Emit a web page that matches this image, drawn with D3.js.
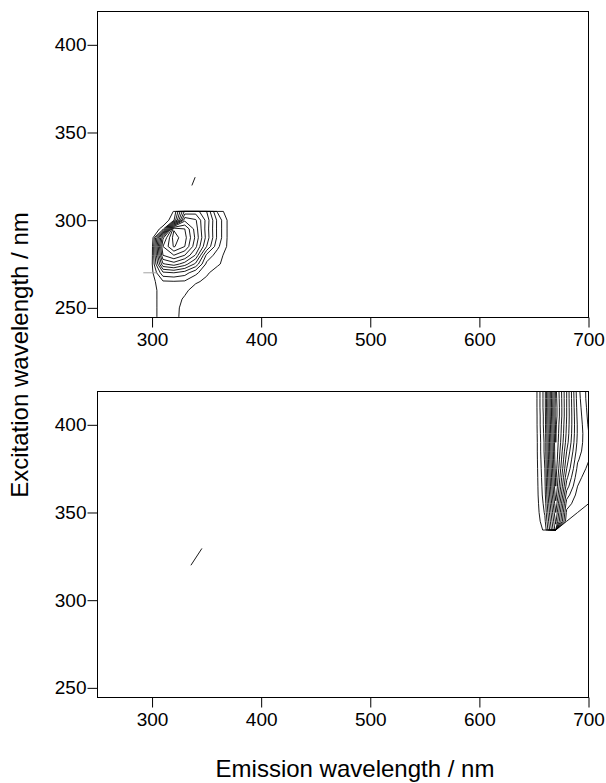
<!DOCTYPE html>
<html>
<head>
<meta charset="utf-8">
<script src="https://cdn.jsdelivr.net/npm/d3@7"></script>
<style>
body { margin: 0; background: #fff; }
text { font-family: "Liberation Sans", Arial, Helvetica, sans-serif; fill: #000; }
</style>
</head>
<body>
<div id="chart"></div>
<script>
// axis ticks
var emTicks = [300, 400, 500, 600, 700];
var exTicks = [250, 300, 350, 400];

// top panel: fluorescence grid (rows = excitation, cols = emission), null = masked
var topEm = [290, 300, 310, 320, 330, 340, 350, 360, 370, 380];
var topEx = [240, 245, 250, 255, 260, 265, 270, 275, 280, 285, 290, 295, 300, 305, 310];
var topGrid = [
    [0, 4, 13, 13, 2, 0, 0, 0, 0, 0],
    [0, 4, 13, 13, 2, 0, 0, 0, 0, 0],
    [0, 4, 13, 13, 3, 0, 0, 0, 0, 0],
    [0, 4, 13, 14, 6, 0, 0, 0, 0, 0],
    [0, 4, 13, 14, 11, 2, 0, 0, 0, 0],
    [0, 5, 15, 15.5, 15, 10, 5, 0, 0, 0],
    [0, 6, 30, 32, 28, 18, 10, 2, 0, 0],
    [0, 7, 55, 60, 52, 38, 14, 10, 2, 0],
    [0, 6, 72, 80, 72, 55, 22, 12, 4, 0],
    [0, 5, 80, 97, 88, 66, 40, 18, 6, 0],
    [0, 2, 70, 100, 91, 70, 45, 22, 6, 0],
    [0, 0, 12, 95, 88, 68, 44, 22, 6, 0],
    [0, 0, 0, 15, 70, 65, 45, 22, 6, 0],
    [0, 0, 0, 8.5, 50, 52, 40, 15, 2, 0],
    [null, null, null, null, null, null, null, null, null, null]
];
var topLevels = [8, 16, 24, 32, 40, 48, 56, 64, 72, 80, 88, 96];
var topScatter = [[336.5, 319.8], [339.5, 324.5]];
var topFaint = [[292, 270], [305, 270]];

// bottom panel
var botEm = [640, 650, 660, 670, 680, 690, 700, 710];
var botEx = [330, 335, 340, 345, 350, 355, 360, 365, 370, 375, 380, 385, 390, 395, 400, 405, 410, 415, 420, 425];
var botGrid = [
    [null, null, null, null, null, null, null, null],
    [null, null, null, null, null, null, null, null],
    [0, 0, 10, 60, null, null, null, null],
    [0, 0, 14, 66, 10, null, null, null],
    [0, 0, 17, 72, 14, 9, null, null],
    [0, 0, 19, 78, 20, 11, 9, null],
    [0, 0, 21, 84, 28, 13, 10, 0],
    [0, 0, 22, 88, 36, 16, 10, 0],
    [0, 0, 23, 90, 42, 19, 11, 0],
    [0, 0, 24, 92, 48, 22, 14, 0],
    [0, 0, 25, 94, 52, 25, 16.5, 0],
    [0, 0, 26, 95, 56, 28, 17, 0],
    [0, 0, 26, 96, 60, 30, 17, 0],
    [0, 0, 27, 97, 62, 31, 16.5, 0],
    [0, 0, 28, 98, 63, 31, 15, 0],
    [0, 0, 28, 100, 64, 30, 14, 0],
    [0, 0, 29, 100, 64, 29, 13, 0],
    [0, 0, 29, 99, 64, 28, 12, 0],
    [0, 0, 29, 98, 64, 27, 12, 0],
    [0, 0, 29, 98, 64, 27, 12, 0]
];
var botLevels = [8, 16, 24, 32, 40, 48, 56, 64, 72, 80, 88, 96];
var botScatter = [[335.6, 319.9], [345.7, 329.5]];

var svgWidth = 606, svgHeight = 783;
var left = 97.5, right = 588.5;

var svg = d3.select("#chart").append("svg")
    .attr("width", svgWidth)
    .attr("height", svgHeight);

var x = d3.scaleLinear().domain([250, 700]).range([left, right]);

function drawPanel(id, top, bottom, em, ex, rows, levels, marks) {
    var y = d3.scaleLinear().domain([244.5, 419]).range([bottom, top]);

    svg.append("clipPath").attr("id", id)
        .append("rect")
        .attr("x", left).attr("y", top)
        .attr("width", right - left).attr("height", bottom - top);

    var n = em.length, m = ex.length;
    var values = [];
    rows.forEach(function(r) {
        r.forEach(function(v) { values.push(v === null ? -1e6 : v); });
    });

    // grid index -> wavelength
    var gx = d3.scaleLinear().domain([0.5, n - 0.5]).range([em[0], em[n - 1]]);
    var gy = d3.scaleLinear().domain([0.5, m - 0.5]).range([ex[0], ex[m - 1]]);

    var contours = d3.contours().size([n, m]).thresholds(levels)(values);

    var ringLine = d3.line()
        .x(function(p) { return x(gx(p[0])); })
        .y(function(p) { return y(gy(p[1])); });

    var g = svg.append("g").attr("clip-path", "url(#" + id + ")");

    g.selectAll(".contour")
        .data(contours)
        .enter().append("path")
        .attr("class", "contour")
        .attr("fill", "none")
        .attr("stroke", "#000")
        .attr("stroke-width", 0.9)
        .attr("d", function(c) {
            return c.coordinates.map(function(poly) {
                return poly.map(function(ring) { return ringLine(ring) + "Z"; }).join("");
            }).join("");
        });

    var seg = d3.line()
        .x(function(p) { return x(p[0]); })
        .y(function(p) { return y(p[1]); });

    marks.forEach(function(mk) {
        g.append("path")
            .attr("fill", "none")
            .attr("stroke", mk.color)
            .attr("stroke-width", 0.9)
            .attr("d", seg(mk.pts));
    });

    svg.append("rect")
        .attr("x", left).attr("y", top)
        .attr("width", right - left).attr("height", bottom - top)
        .attr("fill", "none").attr("stroke", "#000").attr("stroke-width", 1);

    var yAxis = svg.append("g")
        .attr("transform", "translate(" + left + ",0)")
        .call(d3.axisLeft(y).tickValues(exTicks).tickSize(10).tickPadding(1));
    var xAxis = svg.append("g")
        .attr("transform", "translate(0," + bottom + ")")
        .call(d3.axisBottom(x).tickValues(emTicks).tickSize(10).tickPadding(5));

    [xAxis, yAxis].forEach(function(a) {
        a.select(".domain").remove();
        a.selectAll("line").attr("stroke", "#000");
        a.selectAll("text")
            .attr("fill", "#000")
            .style("font-size", "19px")
            .style("font-family", "'Liberation Sans', Arial, sans-serif");
    });
}

drawPanel("clipTop", 11.5, 317.5, topEm, topEx, topGrid, topLevels,
    [{pts: topScatter, color: "#000"}, {pts: topFaint, color: "#999"}]);
drawPanel("clipBot", 391.5, 697.5, botEm, botEx, botGrid, botLevels,
    [{pts: botScatter, color: "#000"}]);

svg.append("text")
    .attr("x", 355)
    .attr("y", 777)
    .attr("text-anchor", "middle")
    .style("font-size", "24px")
    .text("Emission wavelength / nm");

svg.append("text")
    .attr("transform", "translate(28,355) rotate(-90)")
    .attr("text-anchor", "middle")
    .style("font-size", "24px")
    .text("Excitation wavelength / nm");
</script>
</body>
</html>
